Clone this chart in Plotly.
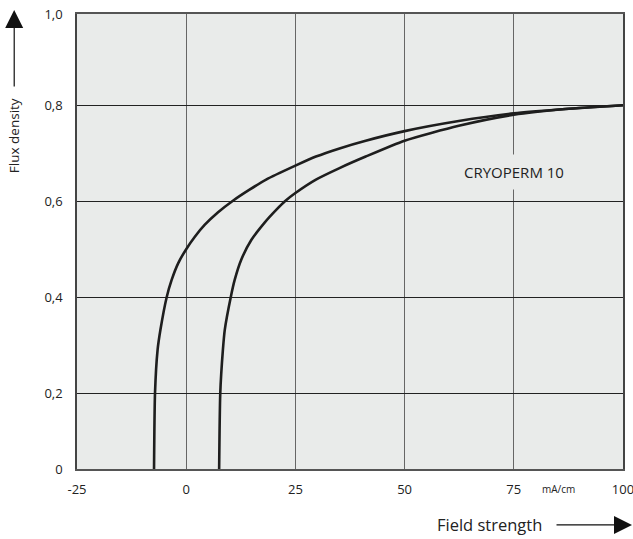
import plotly.graph_objects as go

# Data (field strength H in mA/cm, flux density B)
h_upper = [-7.4, -7.14, -6.55, -5.9, -4.47, -3.33, -1.82, 0.0, 1.98, 4.27, 7.3, 10.7, 14.5, 18.3, 25.0, 29.7, 35.1, 41.1, 50.0, 62.4, 75.0, 86.8, 100.0]
b_upper = [0.0, 0.20, 0.29, 0.332, 0.40, 0.436, 0.471, 0.50, 0.526, 0.551, 0.577, 0.601, 0.624, 0.645, 0.674, 0.693, 0.710, 0.726, 0.746, 0.767, 0.783, 0.792, 0.80]

h_lower = [7.5, 7.8, 8.4, 8.83, 10.2, 11.1, 12.6, 14.9, 18.0, 20.6, 22.6, 25.0, 29.7, 35.1, 41.1, 50.0, 62.4, 75.0, 86.8, 100.0]
b_lower = [0.0, 0.20, 0.29, 0.332, 0.40, 0.436, 0.478, 0.519, 0.556, 0.582, 0.60, 0.617, 0.645, 0.669, 0.693, 0.726, 0.757, 0.780, 0.792, 0.80]

x_ticks = [-25, 0, 25, 50, 75, 100]
x_ticklabels = ["-25", "0", "25", "50", "75", "100"]
# The drawn frame of the original sits slightly inside 0 and 1.0
y_frame = [0.042, 0.99]
y_ticks = [0.042, 0.2, 0.4, 0.6, 0.8, 0.99]
y_ticklabels = ["0", "0,2", "0,4", "0,6", "0,8", "1,0"]

FONT = "Open Sans"
LINE = "#1e1e1e"
BG = "#E9EBEA"

fig = go.Figure()
for hx, by in [(h_upper, b_upper), (h_lower, b_lower)]:
    fig.add_trace(go.Scatter(x=hx, y=by, mode="lines",
                             line=dict(color=LINE, width=2.6, shape="spline", smoothing=0.6),
                             showlegend=False, hoverinfo="skip"))

fig.update_layout(
    width=633, height=539,
    margin=dict(l=77, r=10, t=14, b=70),
    paper_bgcolor="white", plot_bgcolor=BG,
    font=dict(family=FONT, color="#222", size=13),
    xaxis=dict(range=[-25, 100], tickvals=x_ticks, ticktext=x_ticklabels,
               showgrid=True, gridcolor="#666", gridwidth=1.2, zeroline=False,
               showline=True, linecolor="#555", linewidth=1.5, mirror=True,
               ticks="", ticklabelstandoff=8, automargin=False,
               ticklabeloverflow="allow",
               tickfont=dict(size=13, family=FONT)),
    yaxis=dict(range=y_frame, tickvals=y_ticks, ticktext=y_ticklabels,
               showgrid=True, gridcolor="#222", gridwidth=1.2, zeroline=False,
               showline=True, linecolor="#444", linewidth=1.5, mirror=True,
               ticks="", ticklabelstandoff=10, automargin=False,
               ticklabeloverflow="allow",
               tickfont=dict(size=13, family=FONT)),
)

annotations = [
    dict(x=75, y=0.661, xref="x", yref="y", text="CRYOPERM 10", showarrow=False,
         xanchor="center", yanchor="middle",
         font=dict(size=15, family=FONT, color="#222"), bgcolor=BG, borderpad=7),
    dict(x=0.881, y=-0.043, xref="paper", yref="paper", text="mA/cm", showarrow=False,
         xanchor="center", yanchor="middle",
         font=dict(size=10, family=FONT, color="#222")),
    dict(x=0.756, y=-0.123, xref="paper", yref="paper", text="Field strength", showarrow=False,
         xanchor="center", yanchor="middle",
         font=dict(size=16.5, family=FONT, color="#222")),
    dict(x=1.0165, y=-0.123, xref="paper", yref="paper", text="", showarrow=True,
         ax=-77, ay=0, arrowhead=2, arrowsize=3, arrowwidth=1.2, arrowcolor="#111"),
    dict(x=-0.115, y=0.732, xref="paper", yref="paper", text="Flux density", showarrow=False,
         xanchor="center", yanchor="middle",
         textangle=-90, font=dict(size=13.5, family=FONT, color="#222")),
    dict(x=-0.115, y=1.009, xref="paper", yref="paper", text="", showarrow=True,
         ax=0, ay=78, arrowhead=2, arrowsize=3, arrowwidth=1.2, arrowcolor="#111"),
]
fig.update_layout(annotations=annotations)

fig.write_html("out.html", config={"displayModeBar": False},
               post_script="document.body.style.margin='0';document.body.style.overflow='hidden';")
